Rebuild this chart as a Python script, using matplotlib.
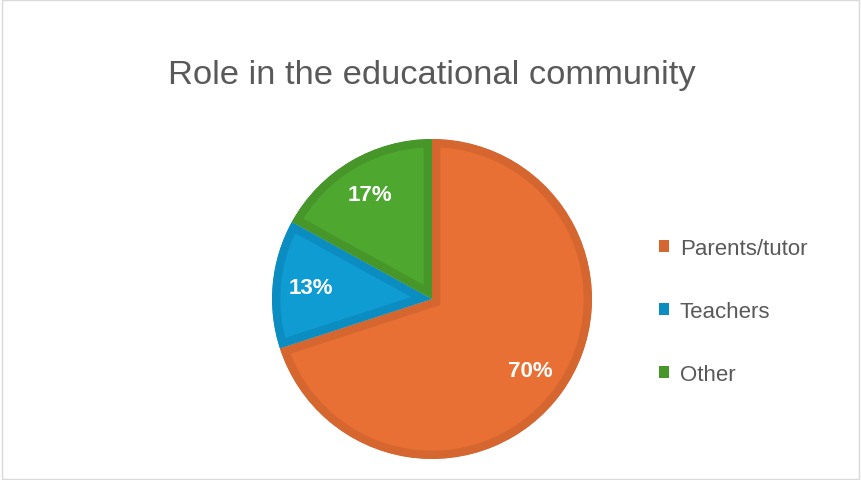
import matplotlib
matplotlib.use('Agg')
import matplotlib.pyplot as plt
from matplotlib.patches import Rectangle

plt.rcParams['font.family'] = ['Liberation Sans', 'DejaVu Sans']

# Survey shares by role
roles = ['Parents/tutor', 'Teachers', 'Other']
shares = [70, 13, 17]
fill_colors = ['#E87034', '#0E9CD3', '#4EA72E']
edge_colors = ['#D5662F', '#0C8DC1', '#469629']

fig = plt.figure(figsize=(8.61, 4.81), dpi=100)
fig.patch.set_facecolor('white')

# thin frame around the chart area
fig.patches.append(Rectangle((0.002, 0.002), 0.996, 0.996, transform=fig.transFigure,
                             fill=False, edgecolor='#D9D9D9', linewidth=1))

fig.text(0.502, 0.843, 'Role in the educational community', ha='center', va='center',
         fontsize=24.8, color='#595959')

ax = fig.add_axes([0.3159, 0.0437, 0.3717, 0.6653])
wedges, texts, autotexts = ax.pie(
    shares, colors=fill_colors, startangle=90, counterclock=False,
    autopct='%1.0f%%', pctdistance=0.76,
    textprops=dict(color='white', fontsize=16, fontweight='bold'))

# darker inner border on each slice, clipped to the slice itself
for w, ec in zip(wedges, edge_colors):
    w.set_edgecolor(ec)
    w.set_linewidth(12)
    w.set_clip_path(w)
    w.set_clip_on(True)

ax.set_xlim(-1, 1)
ax.set_ylim(-1, 1)
ax.set_aspect('equal')
ax.axis('off')

leg = fig.legend(wedges, roles, loc='center left', bbox_to_anchor=(0.7654, 0.35),
                 frameon=False, fontsize=16, labelspacing=1.88,
                 borderpad=0, borderaxespad=0,
                 handlelength=0.45, handleheight=0.45, handletextpad=0.48,
                 labelcolor='#595959')
for h, ec in zip(leg.legend_handles, edge_colors):
    h.set_facecolor(ec)
    h.set_edgecolor('none')
    h.set_linewidth(0)

fig.savefig('out.png', dpi=100)
plt.close('all')
